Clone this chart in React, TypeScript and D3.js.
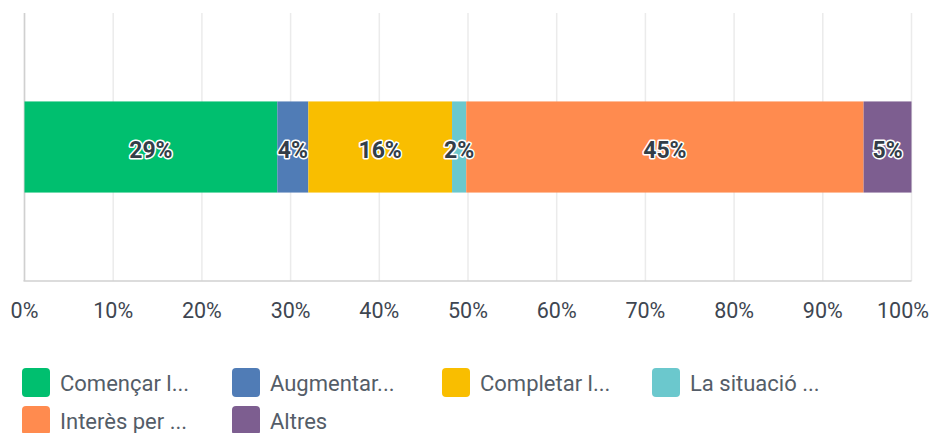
import React, { useRef, useEffect } from 'react';
import * as d3 from 'd3';

// answer categories (truncated as in legend) and their share of responses
const categories = ['Començar l...', 'Augmentar...', 'Completar l...', 'La situació ...', 'Interès per ...', 'Altres'];
const shares = [28.5, 3.5, 16.2, 1.6, 44.8, 5.4];
const shareLabels = ['29%', '4%', '16%', '2%', '45%', '5%'];
const colors = ['#00bf6f', '#507cb6', '#f9be00', '#6bc8cd', '#ff8b4f', '#7d5e90'];
const ticks = [0, 10, 20, 30, 40, 50, 60, 70, 80, 90, 100];

const App = () => {
  const svgRef = useRef<SVGSVGElement>(null);

  useEffect(() => {
    if (!svgRef.current) return;
    const svg = d3.select(svgRef.current);
    svg.selectAll('*').remove();

    const font = 'Roboto, "Open Sans", sans-serif';
    const margin = { top: 13, left: 24.5, right: 19.5 };
    const plotH = 268;
    const x = d3.scaleLinear().domain([0, 100]).range([margin.left, 931 - margin.right]);
    const y = d3.scaleBand().domain(['q']).range([margin.top, margin.top + plotH]).paddingInner(0.66).paddingOuter(0.33);

    // grid lines
    svg.append('g')
      .selectAll('line')
      .data(ticks)
      .enter().append('line')
      .attr('x1', d => x(d)).attr('x2', d => x(d))
      .attr('y1', margin.top).attr('y2', margin.top + plotH)
      .attr('stroke', '#ebebeb')
      .attr('stroke-width', 1.5);

    // axis lines
    svg.append('line')
      .attr('x1', x(0)).attr('x2', x(0))
      .attr('y1', margin.top).attr('y2', margin.top + plotH)
      .attr('stroke', '#d0d0d0').attr('stroke-width', 1.5);
    svg.append('line')
      .attr('x1', x(0) - 1).attr('x2', x(100))
      .attr('y1', margin.top + plotH).attr('y2', margin.top + plotH)
      .attr('stroke', '#d0d0d0').attr('stroke-width', 1.5);

    // tick labels (last one kept inside the frame)
    svg.append('g')
      .selectAll('text')
      .data(ticks)
      .enter().append('text')
      .attr('x', d => (d === 100 ? 929 : x(d)))
      .attr('y', 318)
      .attr('text-anchor', d => (d === 100 ? 'end' : 'middle'))
      .style('font-family', font)
      .style('font-size', '21.5px')
      .style('fill', '#3e4651')
      .text(d => d + '%');

    // stacked segments
    const starts = d3.cumsum([0, ...shares]);
    const segs = shares.map((v, i) => ({ v, i, x0: starts[i], x1: starts[i] + v }));
    const by = y('q') || 0;
    const bh = y.bandwidth();

    svg.append('g')
      .selectAll('rect')
      .data(segs)
      .enter().append('rect')
      .attr('x', d => x(d.x0))
      .attr('width', d => x(d.x1) - x(d.x0))
      .attr('y', by)
      .attr('height', bh)
      .attr('fill', d => colors[d.i]);

    svg.append('g')
      .selectAll('text')
      .data(segs)
      .enter().append('text')
      .attr('x', d => (x(d.x0) + x(d.x1)) / 2)
      .attr('y', by + bh / 2)
      .attr('dy', '0.48em')
      .attr('text-anchor', 'middle')
      .style('font-family', font)
      .style('font-size', '23px')
      .style('font-weight', 'bold')
      .style('fill', '#333e48')
      .style('stroke', '#ffffff')
      .style('stroke-width', 3)
      .style('stroke-linejoin', 'round')
      .style('paint-order', 'stroke')
      .text(d => shareLabels[d.i]);

    // legend
    const legend = svg.append('g')
      .selectAll('g')
      .data(categories)
      .enter().append('g')
      .attr('transform', (d, i) => `translate(${22 + (i % 4) * 210},${368 + Math.floor(i / 4) * 38})`);
    legend.append('rect')
      .attr('width', 28).attr('height', 29)
      .attr('rx', 4)
      .attr('fill', (d, i) => colors[i]);
    legend.append('text')
      .attr('x', 38)
      .attr('y', 23)
      .style('font-family', font)
      .style('font-size', '22px')
      .style('fill', '#545d68')
      .text(d => d);
  }, []);

  return (
    <svg ref={svgRef} width={931} height={433}
      style={{ position: 'absolute', left: 0, top: 0, background: '#fff' }} />
  );
};

export default App;
